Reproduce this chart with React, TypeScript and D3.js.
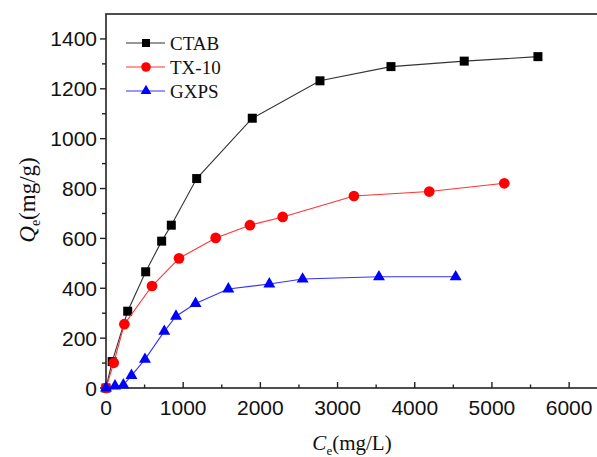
import React, { useEffect, useRef } from "react";
import * as d3 from "d3";

type Pt = [number, number];

const ctab: Pt[] = [
  [0, 0], [80, 106], [281, 308], [514, 466], [721, 589], [846, 653],
  [1175, 840], [1895, 1082], [2772, 1232], [3692, 1289], [4641, 1311], [5596, 1329],
];
const tx10: Pt[] = [
  [0, 0], [100, 101], [238, 256], [596, 409], [946, 520], [1421, 602],
  [1865, 653], [2289, 686], [3212, 770], [4188, 788], [5160, 821],
];
const gxps: Pt[] = [
  [0, 0], [117, 8], [225, 12], [330, 50], [505, 115], [755, 227], [907, 288],
  [1160, 339], [1585, 397], [2116, 417], [2547, 437], [3536, 446], [4530, 446],
];

const seriesNames = ["CTAB", "TX-10", "GXPS"];
const seriesColors = ["#000000", "#ff0000", "#0000ff"];
const lineColors = ["#333333", "#ff3333", "#3333ff"];
const xTicks = [0, 1000, 2000, 3000, 4000, 5000, 6000];
const yTicks = [0, 200, 400, 600, 800, 1000, 1200, 1400];

const App = () => {
  const ref = useRef<SVGSVGElement>(null);

  useEffect(() => {
    const svg = d3.select(ref.current);
    svg.selectAll("*").remove();

    const left = 106, top = 14, right = 600, bottom = 388;
    const x = d3.scaleLinear().domain([0, 6400]).range([left, right]);
    const y = d3.scaleLinear().domain([0, 1500]).range([bottom, top]);

    const g = svg.append("g");

    // frame
    g.append("rect")
      .attr("x", left).attr("y", top)
      .attr("width", right - left).attr("height", bottom - top)
      .attr("fill", "none").attr("stroke", "#222").attr("stroke-width", 1.6);

    // x axis ticks (inward)
    const xMinor = d3.range(500, 6500, 1000);
    g.selectAll("line.xmaj").data(xTicks).join("line")
      .attr("x1", (d) => x(d)).attr("x2", (d) => x(d))
      .attr("y1", bottom).attr("y2", bottom - 6)
      .attr("stroke", "#222").attr("stroke-width", 1.4);
    g.selectAll("line.xmin").data(xMinor).join("line")
      .attr("x1", (d) => x(d)).attr("x2", (d) => x(d))
      .attr("y1", bottom).attr("y2", bottom - 3.5)
      .attr("stroke", "#222").attr("stroke-width", 1.4);
    g.selectAll("text.xl").data(xTicks).join("text")
      .attr("x", (d) => x(d)).attr("y", bottom + 27)
      .attr("text-anchor", "middle")
      .attr("font-family", "Liberation Sans, Arial, sans-serif")
      .attr("font-size", 21).attr("fill", "#111")
      .text((d) => String(d));

    // y axis ticks (outward)
    const yMinor = d3.range(100, 1500, 200);
    g.selectAll("line.ymaj").data(yTicks).join("line")
      .attr("x1", left).attr("x2", left - 6)
      .attr("y1", (d) => y(d)).attr("y2", (d) => y(d))
      .attr("stroke", "#222").attr("stroke-width", 1.4);
    g.selectAll("line.ymin").data(yMinor).join("line")
      .attr("x1", left).attr("x2", left - 4)
      .attr("y1", (d) => y(d)).attr("y2", (d) => y(d))
      .attr("stroke", "#222").attr("stroke-width", 1.4);
    g.selectAll("text.yl").data(yTicks).join("text")
      .attr("x", left - 9).attr("y", (d) => y(d) + 7.5)
      .attr("text-anchor", "end")
      .attr("font-family", "Liberation Sans, Arial, sans-serif")
      .attr("font-size", 21).attr("fill", "#111")
      .text((d) => String(d));

    // axis titles
    const xt = g.append("text")
      .attr("x", 352).attr("y", 450)
      .attr("text-anchor", "middle")
      .attr("font-family", "Liberation Serif, Times New Roman, serif")
      .attr("font-size", 21).attr("fill", "#111");
    xt.append("tspan").attr("font-style", "italic").text("C");
    xt.append("tspan").attr("font-size", 13).attr("dy", 5).text("e");
    xt.append("tspan").attr("dy", -5).text("(mg/L)");

    const yt = g.append("text")
      .attr("transform", "translate(35,200) rotate(-90)")
      .attr("text-anchor", "middle")
      .attr("font-family", "Liberation Serif, Times New Roman, serif")
      .attr("font-size", 23).attr("fill", "#111");
    yt.append("tspan").attr("font-style", "italic").text("Q");
    yt.append("tspan").attr("font-size", 14).attr("dy", 5).text("e");
    yt.append("tspan").attr("dy", -5).text("(mg/g)");

    const allData = [ctab, tx10, gxps];
    const symbols = [d3.symbolSquare, d3.symbolCircle, d3.symbolTriangle];
    const sizes = [81, 90, 62];
    const line = d3.line<Pt>().x((d) => x(d[0])).y((d) => y(d[1]));

    allData.forEach((data, i) => {
      g.append("path").datum(data)
        .attr("d", line)
        .attr("fill", "none")
        .attr("stroke", lineColors[i])
        .attr("stroke-width", 1.1);
      g.selectAll(`path.m${i}`).data(data).join("path")
        .attr("transform", (d) => `translate(${x(d[0])},${y(d[1])})`)
        .attr("d", d3.symbol().type(symbols[i]).size(sizes[i])())
        .attr("fill", seriesColors[i]);
    });

    // legend
    seriesNames.forEach((name, i) => {
      const ly = 43 + i * 24;
      g.append("line")
        .attr("x1", 126).attr("x2", 165).attr("y1", ly).attr("y2", ly)
        .attr("stroke", lineColors[i]).attr("stroke-width", 1.1);
      g.append("path")
        .attr("transform", `translate(146,${ly})`)
        .attr("d", d3.symbol().type(symbols[i]).size(sizes[i] * 0.8)())
        .attr("fill", seriesColors[i]);
      g.append("text")
        .attr("x", 170).attr("y", ly + 6.5)
        .attr("font-family", "Liberation Serif, Times New Roman, serif")
        .attr("font-size", 19).attr("fill", "#111")
        .text(name);
    });
  }, []);

  return (
    <svg
      ref={ref}
      width={597}
      height={457}
      style={{ position: "absolute", left: 0, top: 0, background: "#fff" }}
    />
  );
};

export default App;
